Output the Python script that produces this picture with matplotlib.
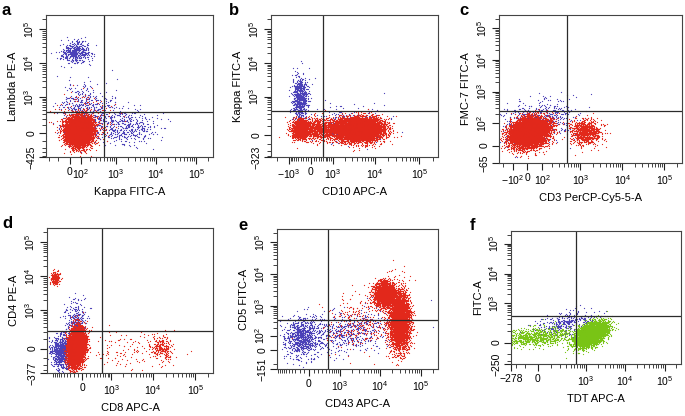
import numpy as np
import matplotlib
matplotlib.use("Agg")
import matplotlib.pyplot as plt

plt.rcParams['font.family'] = ['Liberation Sans', 'DejaVu Sans']
plt.rcParams['mathtext.default'] = 'regular'

# ── Panel text ────────────────────────────────────────────────────────
letters = ['a', 'b', 'c', 'd', 'e', 'f']
x_labels = ['Kappa FITC-A', 'CD10 APC-A', 'CD3 PerCP-Cy5-5-A',
            'CD8 APC-A', 'CD43 APC-A', 'TDT APC-A']
y_labels = ['Lambda PE-A', 'Kappa FITC-A', 'FMC-7 FITC-A',
            'CD4 PE-A', 'CD5 FITC-A', 'FITC-A']

# ── Biexponential (arcsinh) axis settings ─────────────────────────────
TOP = 262144
x_cof = [140, 720, 111, 430, 360, 120]
y_cof = [177, 150, 40, 150, 82, 100]
x_min = [-252, -2800, -250, -1420, -1060, -278]
y_min = [-425, -323, -65, -377, -151, -250]

x_ticks = [[0, 1e2, 1e3, 1e4, 1e5],
           [-1e3, 0, 1e3, 1e4, 1e5],
           [-1e2, 0, 1e2, 1e3, 1e4, 1e5],
           [0, 1e3, 1e4, 1e5],
           [0, 1e3, 1e4, 1e5],
           [-278, 0, 1e3, 1e4, 1e5]]
x_ticklabels = [['0', '$10^2$', '$10^3$', '$10^4$', '$10^5$'],
                ['$-10^3$', '0', '$10^3$', '$10^4$', '$10^5$'],
                ['$-10^2$', '0', '$10^2$', '$10^3$', '$10^4$', '$10^5$'],
                ['0', '$10^3$', '$10^4$', '$10^5$'],
                ['0', '$10^3$', '$10^4$', '$10^5$'],
                ['\u2212278', '0', '$10^3$', '$10^4$', '$10^5$']]
y_ticks = [[-425, 0, 1e3, 1e4, 1e5],
           [-323, 0, 1e3, 1e4, 1e5],
           [-65, 0, 1e2, 1e3, 1e4, 1e5],
           [-377, 0, 1e3, 1e4, 1e5],
           [-151, 0, 1e2, 1e3, 1e4, 1e5],
           [-250, 0, 1e3, 1e4, 1e5]]
y_ticklabels = [['\u2212425', '0', '$10^3$', '$10^4$', '$10^5$'],
                ['\u2212323', '0', '$10^3$', '$10^4$', '$10^5$'],
                ['\u221265', '0', '$10^2$', '$10^3$', '$10^4$', '$10^5$'],
                ['\u2212377', '0', '$10^3$', '$10^4$', '$10^5$'],
                ['\u2212151', '0', '$10^2$', '$10^3$', '$10^4$', '$10^5$'],
                ['\u2212250', '0', '$10^3$', '$10^4$', '$10^5$']]

# quadrant gates
gate_x = [490, 475, 490, 575, 480, 560]
gate_y = [357, 372, 250, 222, 348, 363]

# ── Event populations ─────────────────────────────────────────────────
# panel, centre x, centre y, spread x / y (arcsinh units), events, colour, tilt
pop_panel = [0, 0, 0, 0, 0,
             1, 1, 1, 1, 1,
             2, 2, 2,
             3, 3, 3, 3, 3, 3,
             4, 4, 4, 4, 4,
             5, 5, 5]
pop_x = [56, 1700, 150, 80, 120,
         -420, 3000, -420, 300, 4200,
         60, 10, 1300,
         -580, -150, -890, -140, 16000, 2000,
         -140, 2000, 13000, 30000, 3000,
         300, -20, 1300]
pop_y = [22000, 80, 350, 25, 200,
         900, 120, 60, 60, 60,
         120, 45, 45,
         -30, 500, 9000, 20, 0, 0,
         84, 160, 2400, 330, 300,
         200, 45, 70]
pop_sx = [0.45, 0.9, 0.8, 0.36, 0.8,
          0.22, 0.9, 0.2, 0.6, 0.6,
          1.0, 0.5, 0.4,
          0.3, 0.3, 0.12, 0.22, 0.3, 1.2,
          0.5, 1.3, 0.3, 0.28, 1.0,
          1.0, 1.1, 0.45]
pop_sy = [0.38, 0.55, 0.9, 0.45, 0.9,
          0.75, 0.6, 0.3, 0.38, 0.38,
          0.8, 0.5, 0.45,
          0.6, 0.7, 0.2, 0.6, 0.45, 0.7,
          0.7, 0.8, 0.45, 1.0, 1.0,
          0.5, 0.35, 0.45]
pop_n = [450, 450, 600, 9000, 250,
         700, 300, 1500, 1200, 8000,
         600, 9000, 900,
         900, 300, 250, 7000, 250, 120,
         900, 600, 2500, 4500, 300,
         350, 900, 5000]
pop_color = ['blue', 'blue', 'blue', 'red', 'red',
             'blue', 'blue', 'red', 'red', 'red',
             'blue', 'red', 'red',
             'blue', 'blue', 'red', 'red', 'red', 'red',
             'blue', 'blue', 'red', 'red', 'red',
             'blue', 'green', 'green']
pop_tilt = [0, 0, 0, 0, 0,
            0, 0, 0, 0, 0,
            0.3, 0.2, 0,
            0, 0, 0, 0.2, 0, 0,
            0, 0.3, 0, 0, 0,
            0.5, 0.3, 0.5]

COLORS = {'red': '#e2281b', 'blue': '#4a40b8', 'green': '#79c415'}

# axes boxes in pixels (left, top, right, bottom) for a 685x416 figure
boxes = [(46, 15, 213, 157), (271, 15, 438, 157), (499, 15, 682, 163),
         (47, 228, 213, 373), (277, 229, 438, 369), (511, 231, 681, 364)]
letter_pos = [(2, 3), (229, 3), (459, 3), (2, 216), (238, 218), (470, 218)]

W, H = 685, 416
fig = plt.figure(figsize=(W / 100, H / 100), dpi=100)
rng = np.random.default_rng(7)


def asinh_scale(c):
    return (lambda v: np.arcsinh(np.asarray(v, dtype=float) / c),
            lambda t: c * np.sinh(np.asarray(t, dtype=float)))


def minor_ticks(lo, hi, majors):
    vals = []
    for n in range(2, 6):
        for k in range(1, 10):
            for s in (1, -1):
                v = s * k * 10 ** n
                if lo < v < hi and v not in majors:
                    vals.append(v)
    return vals


for i in range(6):
    l, t, r, b = boxes[i]
    ax = fig.add_axes([l / W, 1 - b / H, (r - l) / W, (b - t) / H])
    ax.set_xscale('function', functions=asinh_scale(x_cof[i]))
    ax.set_yscale('function', functions=asinh_scale(y_cof[i]))

    for k in range(len(pop_panel)):
        if pop_panel[k] != i:
            continue
        tx = np.arcsinh(pop_x[k] / x_cof[i])
        ty = np.arcsinh(pop_y[k] / y_cof[i])
        zx = rng.standard_normal(pop_n[k])
        zy = rng.standard_normal(pop_n[k])
        zy = pop_tilt[k] * zx + np.sqrt(1 - pop_tilt[k] ** 2) * zy
        xs = x_cof[i] * np.sinh(tx + pop_sx[k] * zx)
        ys = y_cof[i] * np.sinh(ty + pop_sy[k] * zy)
        xs = np.clip(xs, x_min[i], TOP)
        ys = np.clip(ys, y_min[i], TOP)
        ax.scatter(xs, ys, s=0.8, color=COLORS[pop_color[k]],
                   linewidths=0, marker='o', rasterized=True)

    ax.axvline(gate_x[i], color='#2b2b2b', lw=0.9)
    ax.axhline(gate_y[i], color='#2b2b2b', lw=0.9)

    ax.set_xlim(x_min[i], TOP)
    ax.set_ylim(y_min[i], TOP)

    ax.set_xticks(x_ticks[i])
    ax.set_xticklabels(x_ticklabels[i], fontsize=7.5)
    ax.set_yticks(y_ticks[i])
    ax.set_yticklabels(y_ticklabels[i], fontsize=7.5, rotation=90, va='center')
    ax.set_xticks(minor_ticks(x_min[i], TOP, x_ticks[i]), minor=True)
    ax.set_yticks(minor_ticks(y_min[i], TOP, y_ticks[i]), minor=True)
    ax.tick_params(which='major', length=5, width=0.8, color='#222222', pad=2)
    ax.tick_params(which='minor', length=3, width=0.6, color='#222222')

    for sp in ax.spines.values():
        sp.set_linewidth(0.8)
        sp.set_color('#444444')

    ax.set_xlabel(x_labels[i], fontsize=8, labelpad=5)
    ax.set_ylabel(y_labels[i], fontsize=8, labelpad=3)

    lx, ly = letter_pos[i]
    fig.text(lx / W, 1 - ly / H, letters[i], fontsize=12, fontweight='bold',
             va='top', ha='left')

fig.savefig('out.png', dpi=100)
